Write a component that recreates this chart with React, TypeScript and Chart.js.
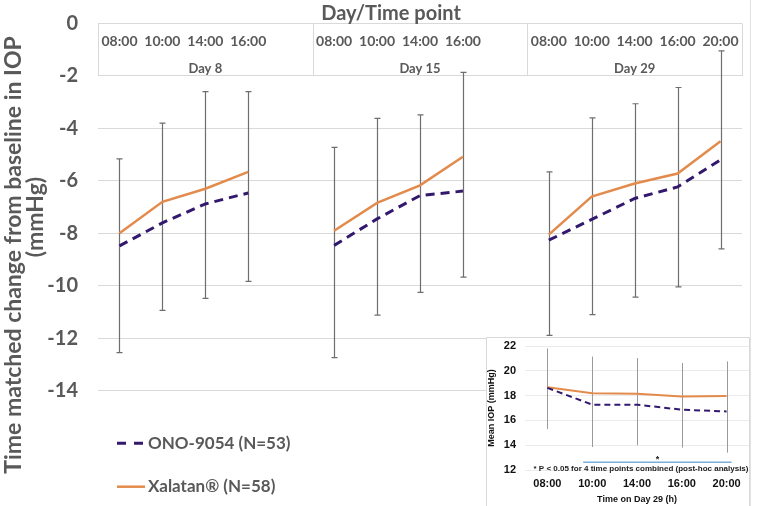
import React, { useEffect, useRef } from 'react';
import { Chart, registerables } from 'chart.js';

Chart.register(...registerables);

// ---------- Main chart data ----------
const timeLabels = [
  '08:00', '10:00', '14:00', '16:00', '',
  '08:00', '10:00', '14:00', '16:00', '',
  '08:00', '10:00', '14:00', '16:00', '20:00',
];
const dayLabels = ['Day 8', 'Day 15', 'Day 29'];
const slotsPerDay = 5;
const onoChange = [-8.48, -7.6, -6.88, -6.46, null, -8.46, -7.45, -6.56, -6.39, null, -8.26, -7.47, -6.67, -6.23, -5.2];
const xalatanChange = [-8.0, -6.8, -6.3, -5.66, null, -7.9, -6.84, -6.17, -5.08, null, -8.05, -6.6, -6.1, -5.72, -4.49];
const changeErrTop = [-5.16, -3.8, -2.6, -2.6, null, -4.72, -3.62, -3.48, -1.86, null, -5.66, -3.6, -3.06, -2.44, -1.04];
const changeErrBottom = [-12.55, -10.94, -10.48, -9.83, null, -12.74, -11.12, -10.25, -9.67, null, -11.89, -11.1, -10.43, -10.04, -8.59];
const mainYMin = -14;
const mainYMax = 0;
const mainYStep = 2;
const seriesNames = ['ONO-9054 (N=53)', 'Xalatan® (N=58)'];

// ---------- Inset chart data ----------
const insetTimes = ['08:00', '10:00', '14:00', '16:00', '20:00'];
const insetOno = [18.62, 17.27, 17.27, 16.86, 16.72];
const insetXalatan = [18.67, 18.19, 18.14, 17.92, 17.97];
const insetErrTop = [21.8, 21.15, 21.03, 20.63, 20.76];
const insetErrBottom = [15.3, 13.85, 14.0, 13.8, 13.4];
const insetYMin = 12;
const insetYMax = 22;
const insetNote = '* P < 0.05 for 4 time points combined (post-hoc analysis)';

const PURPLE = '#33196e';
const ORANGE = '#e38b4c';
const GRAY_TEXT = '#595959';
const GRID = '#d9d9d9';
const MAIN_FONT = 'Lato, "Open Sans", sans-serif';
const INSET_FONT = '"Liberation Sans", Arial, sans-serif';

function makeErrorBars(top: (number | null)[], bottom: (number | null)[], color: string, width: number, cap: number) {
  return {
    id: 'errorBars',
    beforeDatasetsDraw(chart: any) {
      const { ctx, scales } = chart;
      const x = scales.x, y = scales.y;
      ctx.save();
      ctx.strokeStyle = color;
      ctx.lineWidth = width;
      top.forEach((t, i) => {
        const b = bottom[i];
        if (t == null || b == null) return;
        const px = Math.round(x.getPixelForValue(i)) + 0.5;
        const yt = y.getPixelForValue(t);
        const yb = y.getPixelForValue(b);
        ctx.beginPath();
        ctx.moveTo(px, yt);
        ctx.lineTo(px, yb);
        if (cap > 0) {
          ctx.moveTo(px - cap, yt);
          ctx.lineTo(px + cap, yt);
          ctx.moveTo(px - cap, yb);
          ctx.lineTo(px + cap, yb);
        }
        ctx.stroke();
      });
      ctx.restore();
    },
  };
}

const headerPlugin = {
  id: 'header',
  beforeDatasetsDraw(chart: any) {
    const { ctx, scales } = chart;
    const x = scales.x, y = scales.y;
    const top = y.getPixelForValue(0);
    const bot = y.getPixelForValue(-2);
    const h = bot - top;
    ctx.save();
    ctx.strokeStyle = GRID;
    ctx.lineWidth = 1;
    for (let g = 0; g <= dayLabels.length; g++) {
      const bx = Math.round(x.getPixelForValue(g * slotsPerDay - 0.5)) + 0.5;
      ctx.beginPath();
      ctx.moveTo(bx, top);
      ctx.lineTo(bx, bot);
      ctx.stroke();
    }
    ctx.fillStyle = GRAY_TEXT;
    ctx.textAlign = 'center';
    ctx.textBaseline = 'middle';
    ctx.font = `bold 14px ${MAIN_FONT}`;
    timeLabels.forEach((t, i) => {
      if (!t) return;
      ctx.fillText(t, x.getPixelForValue(i), top + h * 0.35);
    });
    ctx.font = `bold 13px ${MAIN_FONT}`;
    dayLabels.forEach((d, g) => {
      const l = x.getPixelForValue(g * slotsPerDay - 0.5);
      const r = x.getPixelForValue((g + 1) * slotsPerDay - 0.5);
      ctx.fillText(d, (l + r) / 2, top + h * 0.855);
    });
    ctx.restore();
  },
};

const mainDecorPlugin = {
  id: 'mainDecor',
  afterDraw(chart: any) {
    const { ctx, chartArea } = chart;
    ctx.save();
    // outer frame line
    ctx.strokeStyle = '#e2e2e2';
    ctx.lineWidth = 1;
    ctx.beginPath();
    ctx.moveTo(750.5, 0);
    ctx.lineTo(750.5, 506);
    ctx.stroke();
    // title
    ctx.fillStyle = GRAY_TEXT;
    ctx.textAlign = 'center';
    ctx.textBaseline = 'middle';
    ctx.font = `bold 20px ${MAIN_FONT}`;
    ctx.fillText('Day/Time point', 391, 14);
    // y-axis title (two lines, rotated)
    ctx.font = `bold 23px ${MAIN_FONT}`;
    ctx.save();
    ctx.translate(14, 255);
    ctx.rotate(-Math.PI / 2);
    ctx.fillText('Time matched change from baseline in IOP', 0, 0);
    ctx.restore();
    ctx.save();
    ctx.translate(36, 217);
    ctx.rotate(-Math.PI / 2);
    ctx.fillText('(mmHg)', 0, 0);
    ctx.restore();
    // legend
    const ds = chart.data.datasets;
    const items = [
      { y: chartArea.bottom + 52.6, ds: ds[0], dash: [9, 8] },
      { y: chartArea.bottom + 96, ds: ds[1], dash: [] as number[] },
    ];
    ctx.font = `bold 17px ${MAIN_FONT}`;
    ctx.textAlign = 'left';
    items.forEach((it) => {
      ctx.save();
      ctx.strokeStyle = it.ds.borderColor;
      ctx.lineWidth = it.ds.borderWidth;
      ctx.setLineDash(it.dash);
      ctx.beginPath();
      ctx.moveTo(117, it.y);
      ctx.lineTo(145, it.y);
      ctx.stroke();
      ctx.restore();
      ctx.fillStyle = GRAY_TEXT;
      ctx.fillText(it.ds.label, 148, it.y);
    });
    ctx.restore();
  },
};

const insetFramePlugin = {
  id: 'insetFrame',
  beforeDraw(chart: any) {
    const { ctx, width, height } = chart;
    ctx.save();
    ctx.fillStyle = '#ffffff';
    ctx.fillRect(0, 0, width, height);
    ctx.strokeStyle = GRID;
    ctx.lineWidth = 1;
    ctx.beginPath();
    ctx.moveTo(0.5, height);
    ctx.lineTo(0.5, 0.5);
    ctx.lineTo(width - 0.5, 0.5);
    ctx.lineTo(width - 0.5, height);
    ctx.stroke();
    ctx.restore();
  },
};

const insetNotePlugin = {
  id: 'insetNote',
  afterDatasetsDraw(chart: any) {
    const { ctx, scales } = chart;
    const x = scales.x, y = scales.y;
    const x1 = x.getPixelForValue(1) - 9;
    const x2 = x.getPixelForValue(insetTimes.length - 1) + 5;
    const ly = y.getPixelForValue(12.63);
    ctx.save();
    ctx.strokeStyle = '#7aaedb';
    ctx.lineWidth = 1.5;
    ctx.beginPath();
    ctx.moveTo(x1, ly);
    ctx.lineTo(x2, ly);
    ctx.stroke();
    ctx.fillStyle = '#222';
    ctx.textAlign = 'center';
    ctx.textBaseline = 'middle';
    ctx.font = `bold 9px ${INSET_FONT}`;
    ctx.fillText('*', (x1 + x2) / 2, y.getPixelForValue(12.98) + 2);
    ctx.font = `bold 8px ${INSET_FONT}`;
    ctx.fillText(insetNote, 155, y.getPixelForValue(12.09));
    ctx.restore();
  },
};

export default function App() {
  const mainRef = useRef<HTMLCanvasElement>(null);
  const insetRef = useRef<HTMLCanvasElement>(null);

  useEffect(() => {
    const main = new Chart(mainRef.current as HTMLCanvasElement, {
      type: 'line',
      data: {
        labels: timeLabels,
        datasets: [
          {
            label: seriesNames[0],
            data: onoChange,
            borderColor: PURPLE,
            borderWidth: 3,
            borderDash: [9, 6],
            pointRadius: 0,
            fill: false,
            tension: 0,
            spanGaps: false,
          },
          {
            label: seriesNames[1],
            data: xalatanChange,
            borderColor: ORANGE,
            borderWidth: 2.5,
            pointRadius: 0,
            fill: false,
            tension: 0,
            spanGaps: false,
          },
        ],
      },
      options: {
        animation: false,
        responsive: false,
        layout: { padding: { left: 0, right: 15, top: 23.5, bottom: 115.3 } },
        scales: {
          x: { type: 'category', display: false, offset: true },
          y: {
            min: mainYMin,
            max: mainYMax,
            ticks: {
              stepSize: mainYStep,
              color: GRAY_TEXT,
              padding: 20,
              font: { family: MAIN_FONT, size: 20, weight: 'bold' },
            },
            grid: { color: GRID, drawTicks: false },
            border: { display: false },
            afterFit: (s: any) => { s.width = 98; s.paddingTop = 0; s.paddingBottom = 0; },
          },
        },
        plugins: {
          legend: { display: false },
          tooltip: { enabled: false },
          title: { display: false },
        },
      } as any,
      plugins: [headerPlugin, makeErrorBars(changeErrTop, changeErrBottom, '#6e6e6e', 1.2, 3), mainDecorPlugin],
    });

    const inset = new Chart(insetRef.current as HTMLCanvasElement, {
      type: 'line',
      data: {
        labels: insetTimes,
        datasets: [
          {
            label: seriesNames[0],
            data: insetOno,
            borderColor: PURPLE,
            borderWidth: 2,
            borderDash: [6, 4],
            pointRadius: 0,
            tension: 0,
          },
          {
            label: seriesNames[1],
            data: insetXalatan,
            borderColor: ORANGE,
            borderWidth: 2,
            pointRadius: 0,
            tension: 0,
          },
        ],
      },
      options: {
        animation: false,
        responsive: false,
        layout: { padding: { left: 0, right: 1, top: 9, bottom: 0 } },
        scales: {
          x: {
            type: 'category',
            offset: true,
            grid: { display: false, drawTicks: false },
            border: { display: false },
            ticks: {
              color: '#111',
              padding: 7.4,
              maxRotation: 0,
              autoSkip: false,
              font: { family: INSET_FONT, size: 11, weight: 'bold' },
            },
            title: {
              display: true,
              text: 'Time on Day 29 (h)',
              color: '#111',
              padding: { top: 0, bottom: 1 },
              font: { family: INSET_FONT, size: 9, weight: 'bold' },
            },
            afterFit: (s: any) => { s.height = 36; s.paddingLeft = 0; s.paddingRight = 0; },
          },
          y: {
            min: insetYMin,
            max: insetYMax,
            ticks: {
              stepSize: 2,
              color: '#111',
              padding: 9,
              font: { family: INSET_FONT, size: 11, weight: 'bold' },
            },
            grid: { color: '#ebebeb', drawTicks: false },
            border: { display: false },
            title: {
              display: true,
              text: 'Mean IOP (mmHg)',
              color: '#111',
              padding: 0,
              font: { family: INSET_FONT, size: 9, weight: 'bold' },
            },
            afterFit: (s: any) => { s.width = 39; s.paddingTop = 0; s.paddingBottom = 0; },
          },
        },
        plugins: {
          legend: { display: false },
          tooltip: { enabled: false },
        },
      } as any,
      plugins: [insetFramePlugin, makeErrorBars(insetErrTop, insetErrBottom, '#9a9a9a', 1, 0), insetNotePlugin],
    });

    return () => {
      main.destroy();
      inset.destroy();
    };
  }, []);

  return (
    <div style={{ position: 'absolute', left: 0, top: 0, width: 757, height: 506, background: '#ffffff' }}>
      <canvas ref={mainRef} width={757} height={506} style={{ position: 'absolute', left: 0, top: 0 }} />
      <canvas ref={insetRef} width={264} height={169} style={{ position: 'absolute', left: 486, top: 337 }} />
    </div>
  );
}
